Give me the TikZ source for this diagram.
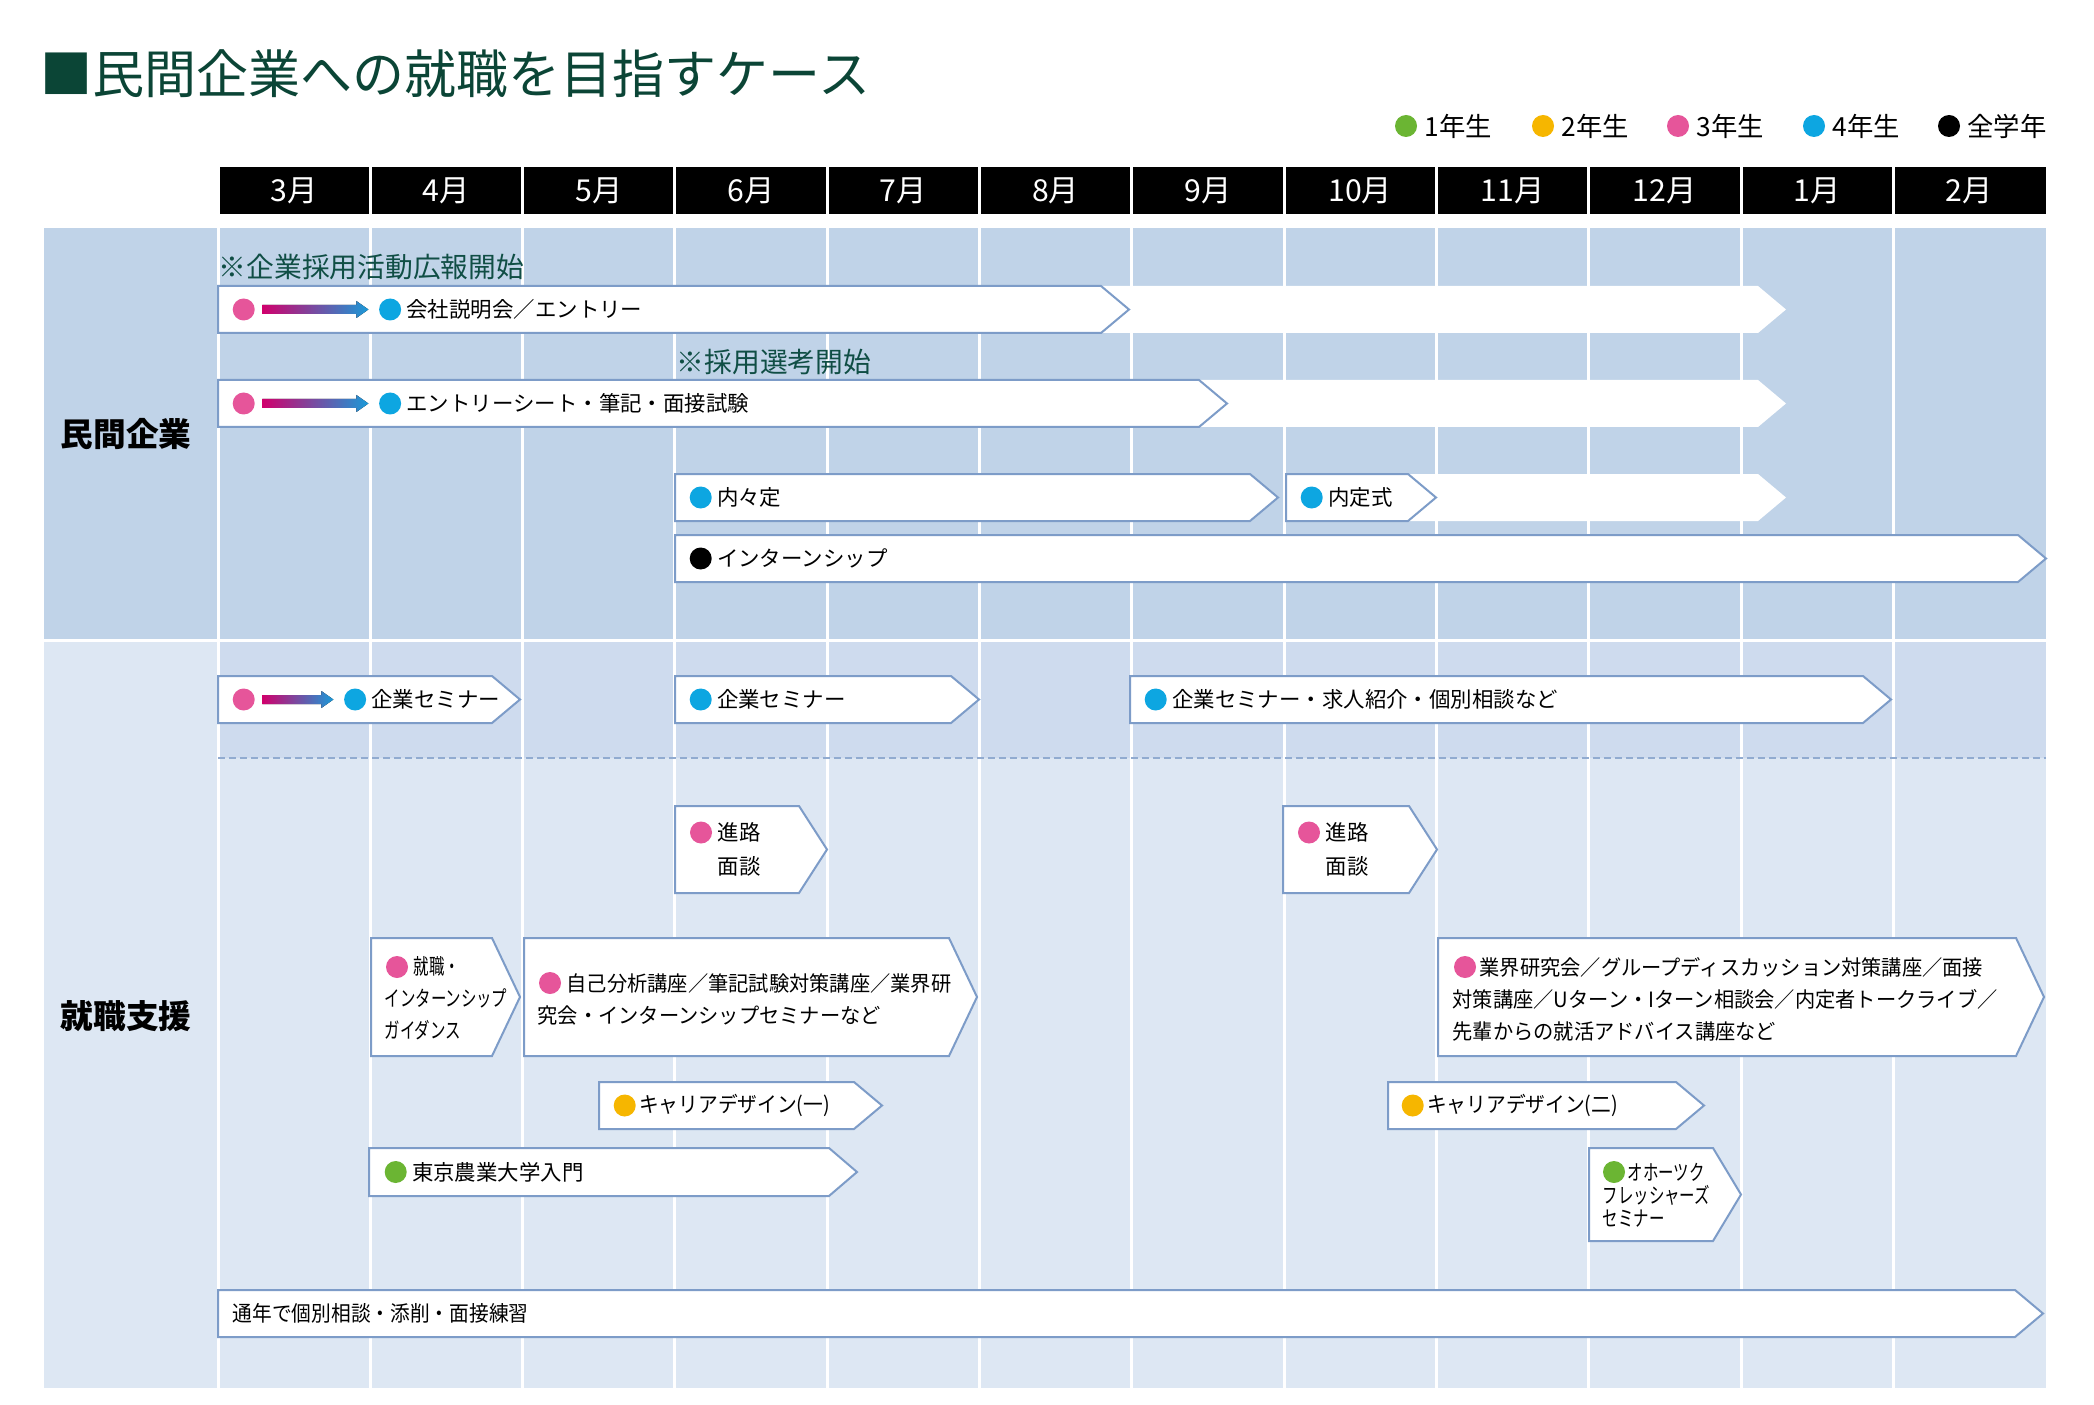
\documentclass[tikz,border=0pt]{standalone}
\usepackage{fontspec}
\setmainfont{Noto Sans CJK JP}
\newfontfamily\jpcond[FakeStretch=0.72]{Noto Sans CJK JP}
\newfontfamily\jpnarrow[FakeStretch=0.92]{Noto Sans CJK JP}
\newfontfamily\jpbody[FakeStretch=0.96]{Noto Sans CJK JP}
\usetikzlibrary{positioning, calc}
\definecolor{secone}{HTML}{C0D3E8}
\definecolor{sectwo}{HTML}{DDE7F3}
\definecolor{secband}{HTML}{CEDBEE}
\definecolor{edge}{HTML}{7D9CC8}
\definecolor{titlegreen}{HTML}{0B4536}
\definecolor{notegreen}{HTML}{104E45}
\definecolor{cgreen}{HTML}{6BB533}
\definecolor{cyellow}{HTML}{F6B600}
\definecolor{cpink}{HTML}{E6559A}
\definecolor{cblue}{HTML}{0DA6E1}
\definecolor{gradpink}{HTML}{D0006C}
\definecolor{gradblue}{HTML}{1A9AD8}

% chevron bar: [style] name, x from, x tip, y top, y bottom
\newcommand{\chev}[6][]{%
  \draw[chevbox,#1] (#3,#5) -- ({#4-28},#5) -- (#4,{(#5+#6)/2}) -- ({#4-28},#6) -- (#3,#6) -- cycle;
  \coordinate (#2) at (#3,{(#5+#6)/2});}
% pink -> blue gradient arrow between two dots
\newcommand{\gradarrow}[2]{%
  \fill[left color=gradpink, right color=gradblue]
    ($(#1.east)+(7,-4.5)$) -- ($(#2.west)+(-22,-4.5)$) -- ($(#2.west)+(-22,-8.5)$)
    -- ($(#2.west)+(-10,0)$) -- ($(#2.west)+(-22,8.5)$) -- ($(#2.west)+(-22,4.5)$)
    -- ($(#1.east)+(7,4.5)$) -- cycle;}

\begin{document}
\begin{tikzpicture}[x=0.1mm, y=-0.1mm,
  chevbox/.style={draw=edge, fill=white, line width=0.2mm},
  gdot/.style={circle, inner sep=0pt, minimum size=2.2mm},
  yrone/.style={gdot, fill=cgreen},
  yrtwo/.style={gdot, fill=cyellow},
  yrthree/.style={gdot, fill=cpink},
  yrfour/.style={gdot, fill=cblue},
  yrall/.style={gdot, fill=black},
  txt/.style={inner sep=0pt, anchor=west, font=\fontsize{6.1}{9.1}\selectfont},
  note/.style={inner sep=0pt, anchor=west, text=notegreen, font=\fontsize{7.9}{7.9}\selectfont},
  legend/.style={inner sep=0pt, anchor=west, font=\fontsize{7.5}{7.5}\selectfont},
  month/.style={text=white, font=\fontsize{8.6}{8.6}\selectfont},
  seclabel/.style={font=\fontsize{9.3}{9.3}\selectfont\bfseries},
]
  \useasboundingbox (0,0) rectangle (2094,1405);
  \fill[white] (0,0) rectangle (2094,1405);

  % Title and legend
  \node[anchor=west, inner sep=0pt, text=titlegreen, font=\fontsize{14.8}{14.8}\selectfont] (title) at (40,74) {■民間企業への就職を目指すケース};
  \foreach \x/\c/\lbl [count=\i] in {1406/cgreen/1年生, 1543/cyellow/2年生, 1678/cpink/3年生, 1814/cblue/4年生, 1949/black/全学年} {
    \node[gdot, fill=\c] (lg\i) at (\x,126) {};
    \node[legend, right=0.6mm of lg\i] (lt\i) {\lbl};
  }

  % Backgrounds
  \fill[secone] (44,228) rectangle (2046,639);
  \fill[sectwo] (44,642) rectangle (2046,1388);
  \fill[secband] (218,642) rectangle (2046,758);
  \fill[black] (218,167) rectangle (2046,214);
  \foreach \k in {0,...,11}
    \draw[white, line width=0.3mm] ({218+152.3*\k},167) -- ({218+152.3*\k},1388);
  \foreach \m [count=\i from 0] in {3,4,5,6,7,8,9,10,11,12,1,2}
    \node[month] (m\i) at ({218+152.3*(\i+0.5)},190.5) {\m 月};
  \draw[edge!85, line width=0.2mm, dash pattern=on 0.7mm off 0.4mm] (218,758) -- (2046,758);

  \node[seclabel] (kigyo) at (126,434) {民間企業};
  \node[seclabel] (shien) at (126,1016) {就職支援};

  % Companies
  \node[note] (n1) at (218,267) {※企業採用活動広報開始};
  \chev[draw=none]{e1}{218}{1786}{286}{333}
  \chev{r1}{218}{1129}{286}{333}
  \node[yrthree, right=1.4mm of r1] (p1) {};
  \node[yrfour, right=12.3mm of p1] (b1) {};
  \gradarrow{p1}{b1}
  \node[txt, right=0.4mm of b1] (t1) {会社説明会／エントリー};

  \node[note] (n2) at (676,362) {※採用選考開始};
  \chev[draw=none]{e2}{218}{1786}{380}{427}
  \chev{r2}{218}{1227}{380}{427}
  \node[yrthree, right=1.4mm of r2] (p2) {};
  \node[yrfour, right=12.3mm of p2] (b2) {};
  \gradarrow{p2}{b2}
  \node[txt, right=0.4mm of b2] (t2) {エントリーシート・筆記・面接試験};

  \chev[draw=none]{e3}{1286}{1786}{474}{521}
  \chev{r3}{675}{1278}{474}{521}
  \node[yrfour, right=1.4mm of r3] (b3) {};
  \node[txt, right=0.4mm of b3] (t3) {内々定};
  \chev{r3b}{1286}{1436}{474}{521}
  \node[yrfour, right=1.4mm of r3b] (b3b) {};
  \node[txt, right=0.4mm of b3b] (t3b) {内定式};

  \chev{r4}{675}{2046}{535}{582}
  \node[yrall, right=1.4mm of r4] (k4) {};
  \node[txt, right=0.4mm of k4] (t4) {インターンシップ};

  % Career support
  \chev{s1}{218}{520}{676}{723}
  \node[yrthree, right=1.4mm of s1] (p5) {};
  \node[yrfour, right=8.8mm of p5] (b5) {};
  \gradarrow{p5}{b5}
  \node[txt, right=0.4mm of b5] (t5) {企業セミナー};
  \chev{s2}{675}{979}{676}{723}
  \node[yrfour, right=1.4mm of s2] (b6) {};
  \node[txt, right=0.4mm of b6] (t6) {企業セミナー};
  \chev{s3}{1130}{1891}{676}{723}
  \node[yrfour, right=1.4mm of s3] (b7) {};
  \node[txt, right=0.4mm of b7] (t7) {企業セミナー・求人紹介・個別相談など};

  \chev{s4}{675}{827}{806}{893}
  \node[yrthree] (p8) at ($(s4)+(26,-17)$) {};
  \node[txt, align=left, font=\fontsize{6.1}{9.7}\selectfont] (t8) at ($(s4)+(42,0)$) {進路\\面談};
  \chev{s5}{1283}{1437}{806}{893}
  \node[yrthree] (p9) at ($(s5)+(26,-17)$) {};
  \node[txt, align=left, font=\fontsize{6.1}{9.7}\selectfont] (t9) at ($(s5)+(42,0)$) {進路\\面談};

  \chev{s6}{371}{520}{938}{1056}
  \node[yrthree] (p10) at ($(s6)+(26,-30)$) {};
  \node[txt, align=left, font=\jpcond\fontsize{6.1}{9.1}\selectfont] (t10) at ($(s6)+(13,1.5)$) {\hspace*{2.9mm}就職・\\インターンシップ\\ガイダンス};
  \chev{s7}{524}{977}{938}{1056}
  \node[yrthree] (p11) at ($(s7)+(26,-14)$) {};
  \node[txt, align=left, font=\jpbody\fontsize{6}{9.1}\selectfont] (t11) at ($(s7)+(13,2)$) {\hspace*{2.9mm}自己分析講座／筆記試験対策講座／業界研\\究会・インターンシップセミナーなど};
  \chev{s8}{1438}{2044}{938}{1056}
  \node[yrthree] (p12) at ($(s8)+(27,-30)$) {};
  \node[txt, align=left, font=\jpbody\fontsize{6}{9.2}\selectfont] (t12) at ($(s8)+(14,2.5)$) {\hspace*{2.7mm}業界研究会／グループディスカッション対策講座／面接\\対策講座／Uターン・Iターン相談会／内定者トークライブ／\\先輩からの就活アドバイス講座など};

  \chev{s9}{599}{882}{1082}{1129}
  \node[yrtwo, right=1.4mm of s9] (y13) {};
  \node[txt, right=0.2mm of y13, font=\jpnarrow\fontsize{6.1}{9.1}\selectfont] (t13) {キャリアデザイン(一)};
  \chev{s10}{1388}{1704}{1082}{1129}
  \node[yrtwo, right=1.3mm of s10] (y14) {};
  \node[txt, right=0.2mm of y14, font=\jpnarrow\fontsize{6.1}{9.1}\selectfont] (t14) {キャリアデザイン(二)};

  \chev{s11}{369}{857}{1148}{1196}
  \node[yrone, right=1.5mm of s11] (g15) {};
  \node[txt, right=0.4mm of g15] (t15) {東京農業大学入門};
  \chev{s12}{1589}{1741}{1148}{1241}
  \node[yrone] (g16) at ($(s12)+(25,-22.5)$) {};
  \node[txt, align=left, font=\jpcond\fontsize{6.1}{6.5}\selectfont] (t16) at ($(s12)+(13,0.5)$) {\hspace*{2.5mm}オホーツク\\フレッシャーズ\\セミナー};

  \chev{s13}{218}{2043}{1290}{1337}
  \node[txt, right=1.4mm of s13, font=\jpnarrow\fontsize{6.1}{9.1}\selectfont] (t17) {通年で個別相談・添削・面接練習};
\end{tikzpicture}
\end{document}
